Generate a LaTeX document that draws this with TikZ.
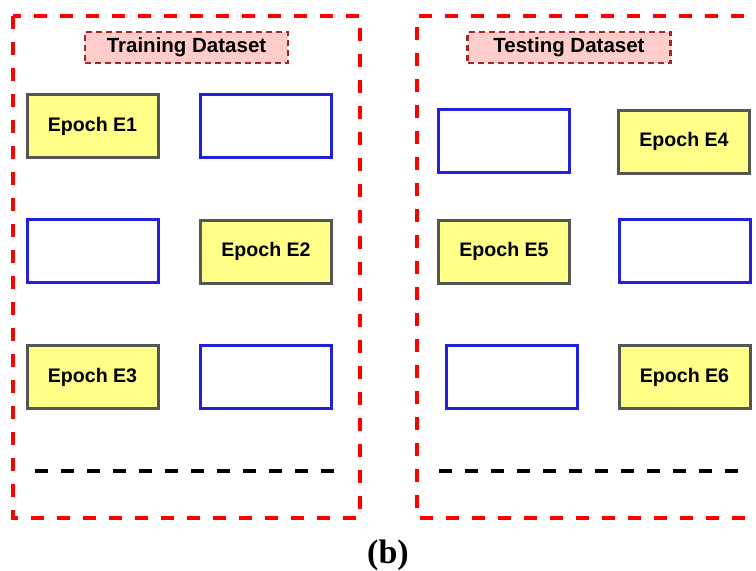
\documentclass[tikz,border=0pt]{standalone}
\usepackage{fontspec}
\setmainfont{Liberation Sans}
\newfontfamily\capfont{Liberation Serif}
\definecolor{epochfill}{HTML}{FFFF88}
\definecolor{epochdraw}{HTML}{555555}
\definecolor{emptydraw}{HTML}{2020DD}
\definecolor{framered}{HTML}{FF0000}
\definecolor{labelfill}{HTML}{FFCCCC}
\definecolor{labeldraw}{HTML}{A02828}
\begin{document}
\begin{tikzpicture}[x=1pt,y=-1pt,
  epochbox/.style={draw=epochdraw, fill=epochfill, line width=3pt, minimum width=131pt, minimum height=63pt, inner sep=0pt, font=\bfseries\fontsize{19.6}{22}\selectfont},
  emptybox/.style={draw=emptydraw, fill=white, line width=3pt, minimum width=131pt, minimum height=63pt, inner sep=0pt},
  dslabel/.style={draw=labeldraw, fill=labelfill, line width=2.5pt, dash pattern=on 6pt off 4pt, minimum width=203pt, minimum height=31pt, inner sep=0pt, font=\bfseries\fontsize{20.5}{22}\selectfont},
  redframe/.style={draw=framered, line width=4pt, dash pattern=on 13pt off 13pt},
  blackdash/.style={draw=black, line width=4pt, dash pattern=on 13pt off 13pt}]
\useasboundingbox (0,0) rectangle (756,571);
% frames
\draw[redframe] (13,16) rectangle (360,518);
\draw[redframe] (770,16) -- (417,16) -- (417,518) -- (770,518);
% labels
\node[dslabel] (trainlbl) at (186.5,47.5) {Training Dataset};
\node[dslabel] (testlbl) at (569,47.5) {Testing Dataset};
% left side
\node[epochbox] (e1) at (92.5,126) {Epoch E1};
\node[emptybox] (l1) at (266,125.5) {};
\node[emptybox] (l2) at (92.5,251) {};
\node[epochbox] (e2) at (266,251.5) {Epoch E2};
\node[epochbox] (e3) at (92.5,377) {Epoch E3};
\node[emptybox] (l3) at (266,376.5) {};
% right side
\node[emptybox] (r1) at (504,141) {};
\node[epochbox] (e4) at (684,141.5) {Epoch E4};
\node[epochbox] (e5) at (504,251.5) {Epoch E5};
\node[emptybox] (r2) at (684.5,251) {};
\node[emptybox] (r3) at (511.5,376.5) {};
\node[epochbox] (e6) at (684.5,377) {Epoch E6};
% continuation lines
\coordinate (la) at (35,471);
\coordinate (lb) at (336,471);
\coordinate (ra) at (439,471);
\coordinate (rb) at (740,471);
\draw[blackdash] (la) -- (lb);
\draw[blackdash] (ra) -- (rb);
% caption
\node[font=\capfont\bfseries\fontsize{34}{38}\selectfont] (cap) at (388,555) {(b)};
\end{tikzpicture}
\end{document}
